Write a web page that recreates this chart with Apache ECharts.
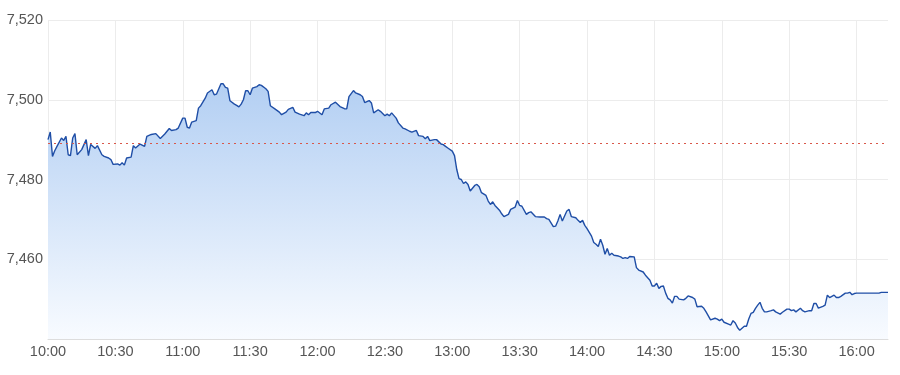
<!DOCTYPE html>
<html>
<head>
<meta charset="utf-8">
<script src="https://cdn.jsdelivr.net/npm/echarts@6/dist/echarts.min.js"></script>
<style>html,body{margin:0;padding:0;background:#fff}#c{width:900px;height:375px}</style>
</head>
<body>
<div id="c"></div>
<script>
// minutes after 10:00
const minutes = [
  0,1,2,3,4,6,7,8,9,10,
  11,12,13,15,17,18,19,21,22,24,
  25,27,28,29,31,32,33,34,35,37,
  38,39,41,43,44,46,48,50,52,54,
  55,57,58,60,61,62,63,64,66,67,
  68,70,71,73,74,75,77,78,79,80,
  81,83,84,85,86,87,88,89,90,91,
  93,94,95,97,98,99,101,103,104,106,
  107,109,110,112,114,115,116,117,119,120,
  122,123,125,126,128,130,132,133,134,136,
  137,139,140,141,143,144,145,147,148,150,
  151,152,153,155,156,158,159,161,162,164,
  165,167,168,169,170,172,173,175,176,177,
  178,180,181,182,183,184,185,186,187,188,
  190,191,192,193,195,196,197,198,199,201,
  202,203,205,206,208,209,210,211,213,214,
  215,217,219,221,222,223,225,226,227,228,
  229,231,232,233,235,236,237,238,239,240,
  242,243,244,245,246,247,248,249,250,251,
  252,254,255,256,257,258,259,261,262,263,
  265,266,268,269,270,271,272,273,274,275,
  276,277,278,279,280,281,283,284,285,287,
  288,289,291,292,293,294,295,297,298,299,
  300,301,303,304,305,306,307,308,310,311,
  312,313,314,315,316,317,318,319,320,322,
  323,324,326,327,329,330,331,332,333,335,
  336,337,339,340,341,342,343,345,346,347,
  348,349,350,351,352,353,355,356,357,358,
  359,360,370,371,374
];
const prices = [
  7490,7491.9,7485.8,7487.2,7488.3,7490.4,7489.8,7490.8,7486.2,7486,
  7490.4,7491.5,7486.2,7487.5,7490,7486,7488.8,7487.8,7488.5,7486.2,
  7485.8,7485.4,7485,7483.8,7483.9,7483.6,7484.2,7483.6,7485.4,7485.6,
  7488.5,7487.9,7488.9,7488.3,7490.8,7491.3,7491.5,7490.3,7491.4,7492.8,
  7492.3,7492.5,7492.9,7495.4,7495.4,7493.1,7492.9,7494.4,7494.75,7497.9,
  7498.5,7500.4,7501.7,7502.5,7501.25,7501.4,7504,7504,7503.1,7502.9,
  7499.75,7498.9,7498.6,7498.2,7498.9,7500,7502.3,7502.25,7501.25,7502.9,
  7503.3,7503.75,7503.6,7502.75,7502.1,7498.5,7497.7,7496.9,7496.25,7496.9,
  7497.6,7498.1,7496.9,7496.4,7496,7496.7,7496.25,7496.8,7496.8,7497.1,
  7496.25,7497.7,7497.9,7498.75,7499.4,7498.3,7497.75,7497.7,7500.8,7502.3,
  7501.7,7501.25,7500.8,7499.3,7499.8,7499.2,7496.7,7497.5,7497.1,7496,
  7496.4,7496,7496.7,7495.4,7494.2,7492.9,7492.7,7492.1,7491.9,7492.3,
  7491,7490.8,7490.25,7490.8,7489.75,7490,7490,7488.9,7488.75,7488.3,
  7487.9,7487.1,7486,7482.5,7480.2,7480,7479,7479.4,7478.75,7477.1,
  7478.5,7478.75,7478.2,7476.7,7476,7474.6,7473.75,7474.4,7473.5,7472.3,
  7471.4,7470.7,7471.25,7472.5,7473.1,7474.75,7473.5,7473.3,7471.25,7471.7,
  7471.9,7470.7,7470.6,7470.6,7470.2,7470,7468.2,7468.3,7469.6,7471.25,
  7469.6,7472.1,7472.5,7470.7,7470.4,7469.75,7469.2,7469.75,7468.5,7467.7,
  7465.8,7464.2,7463.75,7463.2,7465,7463.5,7461.25,7462.7,7461,7461.5,
  7461,7460.8,7460.6,7460.2,7460.4,7460.2,7460.7,7460.6,7457.9,7457.3,
  7456.8,7456,7454.75,7453.3,7453.3,7454,7452.7,7453.2,7453.3,7451.5,
  7450.2,7449.8,7449,7450.7,7450.7,7450,7449.8,7450.2,7450.8,7450.4,
  7450,7448.1,7448.2,7447.7,7446.8,7445.8,7444.8,7445.2,7445,7444.6,
  7445,7444.2,7443.75,7443.5,7444.6,7444,7442.9,7442.2,7443.2,7443.2,
  7445,7446.4,7446.7,7447.7,7448.5,7449.2,7447.7,7446.8,7446.8,7447.1,
  7447.3,7446.8,7446.25,7446.7,7447.5,7447.5,7447.1,7447.3,7446.8,7447.7,
  7447.1,7446.8,7447.1,7447.1,7448.9,7448.9,7447.75,7448.2,7448.5,7451,
  7450.4,7450.7,7451,7450.4,7450.4,7450.7,7451.5,7451.5,7451.7,7451.1,
  7451.4,7451.5,7451.5,7451.7,7451.7
];
const previousClose = 7489.2;
const yTicks = [7440, 7460, 7480, 7500, 7520];
const sessionStart = 10 * 60;

const fmtTime = v => {
  const t = sessionStart + v;
  const h = Math.floor(t / 60), m = t % 60;
  return h + ':' + (m < 10 ? '0' : '') + m;
};

const chart = echarts.init(document.getElementById('c'), null, {renderer: 'canvas'});
const font = '"Liberation Sans", Arial, sans-serif';
chart.setOption({
  animation: false,
  backgroundColor: '#fff',
  grid: {left: 48, right: 12, top: 20, bottom: 36, outerBoundsMode: 'none'},
  xAxis: {
    type: 'value',
    min: 0,
    max: minutes[minutes.length - 1],
    interval: 30,
    axisLine: {show: true, lineStyle: {color: '#dddddd'}},
    axisTick: {show: false},
    axisLabel: {color: '#555', fontSize: 14.5, fontFamily: font, margin: 5, showMaxLabel: false, formatter: fmtTime},
    splitLine: {show: true, showMaxLine: false, lineStyle: {color: '#ececec'}}
  },
  yAxis: {
    type: 'value',
    min: yTicks[0],
    max: yTicks[yTicks.length - 1],
    interval: 20,
    axisLine: {show: false},
    axisTick: {show: false},
    axisLabel: {color: '#555', fontSize: 14.5, fontFamily: font, margin: 5, showMinLabel: false,
      formatter: v => v.toLocaleString('en-US')},
    splitLine: {show: true, lineStyle: {color: '#ececec'}}
  },
  series: [{
    type: 'line',
    data: minutes.map((m, i) => [m, prices[i]]),
    showSymbol: false,
    symbol: 'none',
    lineStyle: {color: '#1f4ea6', width: 1.4},
    itemStyle: {color: '#1f4ea6'},
    areaStyle: {
      origin: 'start',
      opacity: 1,
      color: new echarts.graphic.LinearGradient(0, 0, 0, 1, [
        {offset: 0, color: '#b3cff3'},
        {offset: 1, color: '#f8fbff'}
      ])
    },
    markLine: {
      silent: true,
      symbol: 'none',
      label: {show: false},
      lineStyle: {color: '#d9574a', type: [2, 4], width: 1},
      data: [{yAxis: previousClose}]
    }
  }]
});
</script>
</body>
</html>
